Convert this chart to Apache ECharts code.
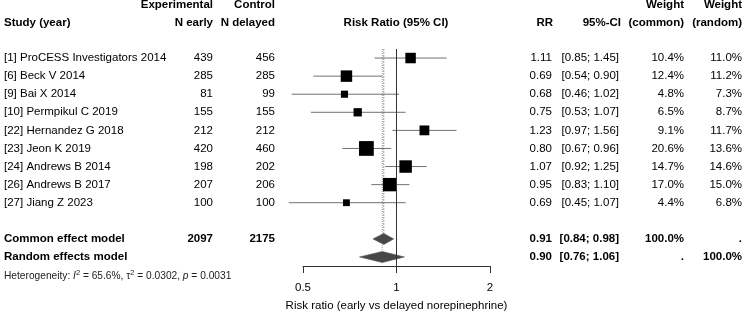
<!DOCTYPE html>
<html>
<head>
<meta charset="utf-8">
<style>
  html,body{margin:0;padding:0;background:#fff;}
  #forest{width:750px;height:329px;}
</style>
<script src="https://cdn.jsdelivr.net/npm/echarts@6/dist/echarts.min.js"></script>
</head>
<body>
<div id="forest"></div>
<script>
// study rows
const studies=['[1] ProCESS Investigators 2014','[6] Beck V 2014','[9] Bai X 2014','[10] Permpikul C 2019','[22] Hernandez G 2018','[23] Jeon K 2019','[24] Andrews B 2014','[26] Andrews B 2017','[27] Jiang Z 2023']
const nEarly=[439,285,81,155,212,420,198,207,100]
const nDelayed=[456,285,99,155,212,460,202,206,100]
const rr=[1.11,0.69,0.68,0.75,1.23,0.80,1.07,0.95,0.69]
const lower=[0.85,0.54,0.46,0.53,0.97,0.67,0.92,0.83,0.45]
const upper=[1.45,0.90,1.02,1.07,1.56,0.96,1.25,1.10,1.07]
const wCommon=[10.4,12.4,4.8,6.5,9.1,20.6,14.7,17.0,4.4]
const wRandom=[11.0,11.2,7.3,8.7,11.7,13.6,14.6,15.0,6.8]

// pooled rows
const pooledNames=['Common effect model','Random effects model']
const pooledNEarly=['2097','']
const pooledNDelayed=['2175','']
const pooledRR=[0.91,0.90]
const pooledLower=[0.84,0.76]
const pooledUpper=[0.98,1.06]
const pooledWCommon=['100.0%','.']
const pooledWRandom=['.','100.0%']

const hetI2='65.6%'
const hetTau2='0.0302'
const hetP='0.0031'

const xTicks=[0.5,1,2]

const FONT='"Liberation Sans", Arial, sans-serif'
const FS=11.5
const pooledRow0=studies.length+1   // one blank row before pooled

function txt(x,y,text,align,bold,size,color){
  return {
    type:'text',x:x,y:y,
    style:{
      text:String(text),
      textAlign:align,align:align,
      textVerticalAlign:'middle',verticalAlign:'middle',
      fontFamily:FONT,fontSize:size||FS,fontWeight:bold?'bold':'normal',
      fill:color||'#000'
    }
  }
}
const ci=(l,u)=>'['+l.toFixed(2)+'; '+u.toFixed(2)+']'

const myChart=echarts.init(document.querySelector('#forest'))

const option={
  animation:false,
  backgroundColor:'#fff',
  grid:{left:303,right:260,top:49,bottom:63},
  xAxis:{
    type:'log',logBase:2,min:xTicks[0],max:xTicks[xTicks.length-1],
    axisLine:{onZero:false,lineStyle:{color:'#333',width:1}},
    axisTick:{length:7,lineStyle:{color:'#333'}},
    axisLabel:{color:'#000',fontSize:FS,fontFamily:FONT,margin:16,formatter:v=>String(+v.toFixed(2))},
    splitLine:{show:false},
    minorTick:{show:false},
    name:'Risk ratio (early vs delayed norepinephrine)',
    nameLocation:'middle',nameGap:34,
    nameTextStyle:{color:'#000',fontSize:FS,fontFamily:FONT}
  },
  yAxis:{type:'value',inverse:true,min:-0.5,max:pooledRow0+1.5,show:false},
  graphic:[
    txt(213,5,'Experimental','right',true),
    txt(275,5,'Control','right',true),
    txt(684,5,'Weight','right',true),
    txt(742,5,'Weight','right',true),
    txt(4,23,'Study (year)','left',true),
    txt(213,23,'N early','right',true),
    txt(275,23,'N delayed','right',true),
    txt(396,23,'Risk Ratio (95% CI)','center',true),
    txt(553,23,'RR','right',true),
    txt(621,23,'95%-CI','right',true),
    txt(684,23,'(common)','right',true),
    txt(742,23,'(random)','right',true),
    {
      type:'text',x:4,y:276,
      style:{
        text:'Heterogeneity: {i|I}{s|2} = '+hetI2+', τ{s|2} = '+hetTau2+', {i|p} = '+hetP,
        fontFamily:FONT,fontSize:10.2,fill:'#222',
        textVerticalAlign:'middle',verticalAlign:'middle',
        rich:{
          i:{fontStyle:'italic',fontFamily:FONT,fontSize:10.2},
          s:{fontSize:7.5,fontFamily:FONT,padding:[0,0,7,0]}
        }
      }
    }
  ],
  series:[
    // pooled estimate reference lines
    {
      type:'custom',
      data:pooledRR.map((v,k)=>[v,pooledRow0+k]),
      z:1,
      renderItem:function(params,api){
        const top=api.coord([api.value(0),-0.5])
        const bot=api.coord([api.value(0),api.value(1)-0.3])
        return {type:'line',shape:{x1:top[0],y1:top[1],x2:bot[0],y2:bot[1]},
          style:{stroke:'#a0a0a0',lineWidth:1,lineDash:params.dataIndex===0?[2,1]:[1,1]}}
      }
    },
    // confidence intervals
    {
      type:'custom',
      data:rr.map((v,i)=>[lower[i],upper[i],i]),
      clip:false,z:2,
      renderItem:function(params,api){
        const a=api.coord([api.value(0),api.value(2)])
        const b=api.coord([api.value(1),api.value(2)])
        return {type:'line',shape:{x1:a[0],y1:a[1],x2:b[0],y2:b[1]},
          style:{stroke:'#707070',lineWidth:1}}
      }
    },
    // study squares
    {
      type:'scatter',
      symbol:'rect',
      data:rr.map((v,i)=>[v,i]),
      symbolSize:(val,p)=>3.25*Math.sqrt(wCommon[p.dataIndex]),
      itemStyle:{color:'#000',opacity:1},
      z:3,
      markLine:{
        silent:true,symbol:'none',
        label:{show:false},
        lineStyle:{color:'#333',type:'solid',width:1},
        data:[{xAxis:1}]
      }
    },
    // pooled diamonds
    {
      type:'custom',
      data:pooledRR.map((v,k)=>[pooledLower[k],v,pooledUpper[k],pooledRow0+k]),
      clip:false,z:4,
      renderItem:function(params,api){
        const l=api.coord([api.value(0),api.value(3)])
        const m=api.coord([api.value(1),api.value(3)])
        const u=api.coord([api.value(2),api.value(3)])
        const h=5.5
        return {type:'polygon',
          shape:{points:[[l[0],l[1]],[m[0],m[1]-h],[u[0],u[1]],[m[0],m[1]+h]]},
          style:{fill:'#474747',stroke:'#555',lineWidth:0.6}}
      }
    },
    // text table for studies
    {
      type:'custom',
      data:studies.map((s,i)=>[1,i]),
      clip:false,silent:true,
      renderItem:function(params,api){
        const i=params.dataIndex
        const y=api.coord([1,i])[1]
        return {type:'group',children:[
          txt(4,y,studies[i],'left'),
          txt(213,y,nEarly[i],'right'),
          txt(275,y,nDelayed[i],'right'),
          txt(552,y,rr[i].toFixed(2),'right'),
          txt(619,y,ci(lower[i],upper[i]),'right'),
          txt(684,y,wCommon[i].toFixed(1)+'%','right'),
          txt(742,y,wRandom[i].toFixed(1)+'%','right')
        ]}
      }
    },
    // text table for pooled rows
    {
      type:'custom',
      data:pooledNames.map((s,k)=>[1,pooledRow0+k]),
      clip:false,silent:true,
      renderItem:function(params,api){
        const k=params.dataIndex
        const y=api.coord([1,pooledRow0+k])[1]
        return {type:'group',children:[
          txt(4,y,pooledNames[k],'left',true),
          txt(213,y,pooledNEarly[k],'right',true),
          txt(275,y,pooledNDelayed[k],'right',true),
          txt(552,y,pooledRR[k].toFixed(2),'right',true),
          txt(619,y,ci(pooledLower[k],pooledUpper[k]),'right',true),
          txt(684,y,pooledWCommon[k],'right',true),
          txt(742,y,pooledWRandom[k],'right',true)
        ]}
      }
    }
  ]
}

myChart.setOption(option)
</script>
</body>
</html>
